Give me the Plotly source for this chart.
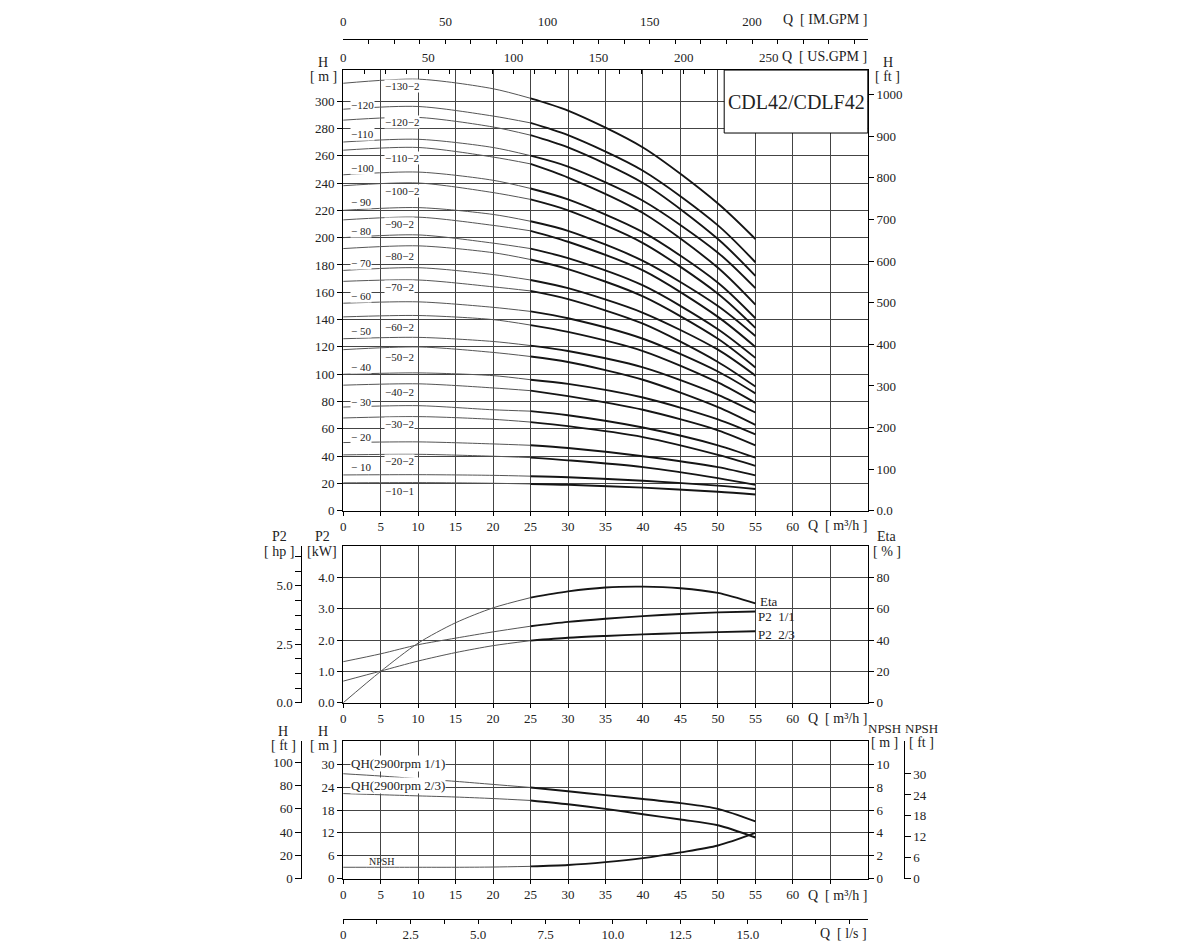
import plotly.graph_objects as go

# ---------------- DATA ----------------
Q_QH = [0, 10, 20, 25, 30, 40, 50, 55]          # m3/h sample points for QH curves

H_130_2 = [313, 316, 309, 302, 293, 266, 225, 199]
H_120   = [294, 296, 289, 284, 275, 249, 209, 182]
H_120_2 = [286, 288, 281, 275, 266, 240, 199, 172]
H_110   = [270, 272, 266, 260, 252, 227, 189, 163]
H_110_2 = [264, 266, 259, 254, 244, 218, 178, 151]
H_100   = [246, 248, 242, 236, 228, 204, 167, 141]
H_100_2 = [238, 240, 233, 228, 220, 196, 159, 134]
H_90    = [220, 222, 217, 212, 205, 183, 150, 128]
H_90_2  = [213, 215, 209, 205, 197, 176, 142, 120]
H_80    = [200, 202, 196, 192, 185, 165, 133, 112]
H_80_2  = [192, 194, 189, 184, 177, 157, 126, 105]
H_70    = [176, 178, 173, 169, 163, 145, 118, 99]
H_70_2  = [168, 169, 164, 161, 155, 137, 109, 91]
H_60    = [152, 153, 149, 146, 141, 126, 102, 86]
H_60_2  = [142, 143, 140, 136, 131, 117, 94, 79]
H_50    = [126, 127, 124, 121, 117, 105, 85, 72]
H_50_2  = [118, 120, 116, 113, 109, 96, 76, 63]
H_40    = [100, 101, 99, 96, 93, 83, 67, 56]
H_40_2  = [92, 93, 90, 88, 84, 74, 59, 48]
H_30    = [76, 77, 74, 73, 70, 61, 48, 39]
H_30_2  = [68, 69, 67, 65, 62, 54, 41, 33]
H_20    = [50, 50.5, 49, 48, 46, 40, 32, 26]
H_20_2  = [41, 41.4, 40, 39, 37, 32, 24, 19]
H_10    = [26.3, 26.5, 26, 25.4, 24.6, 22, 18.5, 16]
H_10_1  = [20.5, 20.7, 20.2, 19.7, 19.1, 17, 14, 12]

MODELS = ["130-2", "120", "120-2", "110", "110-2", "100", "100-2", "90", "90-2",
          "80", "80-2", "70", "70-2", "60", "60-2", "50", "50-2", "40", "40-2",
          "30", "30-2", "20", "20-2", "10", "10-1"]
CURVES = [H_130_2, H_120, H_120_2, H_110, H_110_2, H_100, H_100_2, H_90, H_90_2,
          H_80, H_80_2, H_70, H_70_2, H_60, H_60_2, H_50, H_50_2, H_40, H_40_2,
          H_30, H_30_2, H_20, H_20_2, H_10, H_10_1]

Q_STD = [0, 5, 10, 15, 20, 25, 30, 35, 40, 45, 50, 55]
ETA     = [0, 20, 38, 51, 60.5, 67, 71, 73.5, 74, 73, 70, 63.3]
P2_FULL = [1.31, 1.56, 1.85, 2.06, 2.26, 2.44, 2.58, 2.68, 2.76, 2.83, 2.88, 2.91]
P2_23   = [0.69, 1.01, 1.33, 1.6, 1.82, 1.98, 2.07, 2.13, 2.18, 2.22, 2.25, 2.28]
QH_FULL = [27.5, 26.9, 26.2, 25.5, 24.7, 23.9, 22.9, 21.9, 20.9, 19.8, 18.3, 15.0]
QH_23   = [22.3, 22.0, 21.7, 21.4, 21.0, 20.5, 19.5, 18.3, 16.9, 15.5, 14.0, 10.8]
NPSH    = [1.0, 1.0, 1.0, 1.0, 1.02, 1.08, 1.2, 1.45, 1.8, 2.3, 2.9, 4.0]

Q_TICKS = [0, 5, 10, 15, 20, 25, 30, 35, 40, 45, 50, 55, 60]

# ---------------- LAYOUT HELPERS ----------------
OFF = 8  # page body margin
W, H = 1200 - 2 * OFF, 950 - 2 * OFF
FONT = "Liberation Serif"
YS, YB = 0.9897, 1.0   # vertical correction for the photographed page
def PX(x): return (x - OFF) / W
def PY(y): return 1 - ((y - YB) / YS - OFF) / H

XD = [PX(341), PX(867)]
TOP_D = [PY(512), PY(71)]
MID_D = [PY(704), PY(547)]
BOT_D = [PY(880), PY(742.5)]

THIN = dict(color="#555555", width=1)
THICK = dict(color="#151515", width=1.9)
GRID = "#444444"
TICKFONT = dict(family=FONT, size=13, color="#222")

fig = go.Figure()

def split_trace(xs, ys, xa, ya, split=25):
    xt = [x for x in xs if x <= split]
    yt = ys[:len(xt)]
    i0 = xs.index(split)
    fig.add_trace(go.Scatter(x=xt, y=yt, mode="lines", line=dict(**THIN, shape="spline", smoothing=0.8),
                             xaxis=xa, yaxis=ya, hoverinfo="skip", showlegend=False))
    fig.add_trace(go.Scatter(x=xs[i0:], y=ys[i0:], mode="lines", line=dict(**THICK, shape="spline", smoothing=0.8),
                             xaxis=xa, yaxis=ya, hoverinfo="skip", showlegend=False))

for name, ys in zip(MODELS, CURVES):
    split_trace(Q_QH, ys, "x", "y")

split_trace(Q_STD, ETA, "x4", "y4")
split_trace(Q_STD, P2_FULL, "x4", "y3")
split_trace(Q_STD, P2_23, "x4", "y3")

split_trace(Q_STD, QH_FULL, "x5", "y6")
split_trace(Q_STD, QH_23, "x5", "y6")
split_trace(Q_STD, NPSH, "x5", "y7")

for xa, ya in [("x2", "y"), ("x3", "y"), ("x", "y2"), ("x4", "y5"), ("x5", "y8"), ("x5", "y9"), ("x6", "y6")]:
    fig.add_trace(go.Scatter(x=[None], y=[None], xaxis=xa, yaxis=ya, showlegend=False, hoverinfo="skip"))

base_x = dict(range=[0, 70], tickmode="array", tickvals=Q_TICKS,
              showgrid=True, gridcolor=GRID, gridwidth=1, showline=True, linecolor="black",
              linewidth=1, mirror=True, ticks="outside", ticklen=4, tickcolor="black",
              minor=dict(tickmode="array", tickvals=[65], showgrid=True, gridcolor=GRID,
                         gridwidth=1, ticks="outside", ticklen=4, tickcolor="black"),
              tickfont=TICKFONT, zeroline=False, fixedrange=True)

def ylin(**kw):
    d = dict(showline=True, linecolor="black", linewidth=1, ticks="outside", ticklen=5,
             tickcolor="black", tickfont=TICKFONT, zeroline=False, showgrid=False, fixedrange=True)
    d.update(kw)
    return d

H_TOP = (512 - 71) / 1.3667
layout = dict(
    width=W, height=H, autosize=False,
    margin=dict(l=0, r=0, t=0, b=0),
    paper_bgcolor="white", plot_bgcolor="white",
    showlegend=False,
    font=dict(family=FONT, size=13, color="#222"),
    xaxis=dict(domain=XD, anchor="y", **base_x),
    yaxis=ylin(domain=TOP_D, anchor="x", range=[0, H_TOP], tickmode="array",
               tickvals=list(range(0, 301, 20)),
               showgrid=True, gridcolor=GRID, gridwidth=1, mirror=True),
    yaxis2=ylin(overlaying="y", anchor="x", side="right", range=[0, H_TOP / 0.3048],
                tickmode="array", tickvals=list(range(0, 1001, 100)),
                ticktext=["0.0"] + [str(v) for v in range(100, 1001, 100)], showline=False),
    xaxis2=dict(overlaying="x", anchor="y", side="top", range=[0, 70 * 4.40287],
                tickmode="array", tickvals=[0, 50, 100, 150, 200, 250],
                ticks="inside", ticklen=4, tickcolor="black", tickfont=TICKFONT,
                ticklabelstandoff=4,
                minor=dict(tickmode="array", tickvals=[12.5 * i for i in range(1, 25)],
                           ticks="inside", ticklen=4, tickcolor="black"),
                showgrid=False, zeroline=False, showline=False, fixedrange=True),
    xaxis3=dict(overlaying="x", anchor="free", position=PY(40), side="top",
                range=[0, 70 * 3.66615], tickmode="array", tickvals=[0, 50, 100, 150, 200],
                ticks="inside", ticklen=4, tickcolor="black", tickfont=TICKFONT,
                ticklabelstandoff=8,
                minor=dict(tickmode="array", tickvals=[12.5 * i for i in range(1, 21)],
                           ticks="inside", ticklen=4, tickcolor="black"),
                showline=True, linecolor="black", linewidth=1,
                showgrid=False, zeroline=False, fixedrange=True),
    xaxis4=dict(domain=XD, anchor="y3", **base_x),
    yaxis3=ylin(domain=MID_D, anchor="x4", range=[0, 5], tickmode="array",
                tickvals=[0, 1, 2, 3, 4], ticktext=["0.0", "1.0", "2.0", "3.0", "4.0"],
                showgrid=True, gridcolor=GRID, gridwidth=1, mirror=True),
    yaxis4=ylin(overlaying="y3", anchor="x4", side="right", range=[0, 100], tickmode="array",
                tickvals=[0, 20, 40, 60, 80], showline=False),
    yaxis5=ylin(overlaying="y3", anchor="free", position=PX(299), side="left",
                range=[0, 5 / 0.7457], tickmode="array", tickvals=[0, 2.5, 5],
                ticktext=["0.0", "2.5", "5.0"], ticklen=6,
                minor=dict(tickmode="array", tickvals=[0.625 * i for i in range(1, 11) if i % 4 != 0],
                           ticks="outside", ticklen=6, tickcolor="black")),
    xaxis5=dict(domain=XD, anchor="y6", **base_x),
    yaxis6=ylin(domain=BOT_D, anchor="x5", range=[0, 36], tickmode="array",
                tickvals=[0, 6, 12, 18, 24, 30], showgrid=True, gridcolor=GRID, gridwidth=1,
                mirror=True),
    yaxis7=ylin(overlaying="y6", anchor="x5", side="right", range=[0, 12], tickmode="array",
                tickvals=[0, 2, 4, 6, 8, 10], showline=False),
    yaxis8=ylin(overlaying="y6", anchor="free", position=PX(299), side="left",
                range=[0, 36 / 0.3048], tickmode="array", tickvals=[0, 20, 40, 60, 80, 100], ticklen=6),
    yaxis9=ylin(overlaying="y6", anchor="free", position=PX(903), side="right",
                range=[0, 12 / 0.3048], tickmode="array", tickvals=[0, 6, 12, 18, 24, 30], ticklen=6),
    xaxis6=dict(overlaying="x5", anchor="free", position=PY(920), side="bottom",
                range=[0, 70 / 3.6], tickmode="array", tickvals=[0, 2.5, 5, 7.5, 10, 12.5, 15],
                ticktext=["0", "2.5", "5.0", "7.5", "10.0", "12.5", "15.0"],
                ticks="outside", ticklen=4, tickcolor="black", tickfont=TICKFONT,
                minor=dict(tickmode="array", tickvals=[1.25 * i for i in range(1, 16)],
                           ticks="outside", ticklen=4, tickcolor="black"),
                showline=True, linecolor="black", linewidth=1,
                showgrid=False, zeroline=False, fixedrange=True),
)
fig.update_layout(**layout)

fig.add_shape(type="rect", xref="paper", yref="paper", x0=PX(723), x1=PX(867), y0=PY(134), y1=PY(71),
              fillcolor="white", line=dict(color="black", width=1), layer="above")

anns = []
def ann(text, x, y, size=13, xanchor="center", bg=None):
    d = dict(text=text, x=PX(x), y=PY(y), xref="paper", yref="paper", showarrow=False,
             xanchor=xanchor, yanchor="middle", font=dict(family=FONT, size=size, color="#222"))
    if bg:
        d.update(bgcolor=bg, borderpad=0)
    anns.append(d)

ann("CDL42/CDLF42", 795, 103, size=20)
ann("Q  [ IM.GPM ]", 868, 20, size=14, xanchor="right")
ann("Q  [ US.GPM ]", 868, 57, size=14, xanchor="right")
ann("H", 321, 63, size=14); ann("[ m ]", 321, 77, size=14)
ann("H", 887, 63, size=14); ann("[ ft ]", 887, 77, size=14)
for yq in (527, 720, 897):
    ann("Q  [ m³/h ]", 868, yq, size=14, xanchor="right")
ann("Q  [ l/s ]", 868, 935, size=14, xanchor="right")
ann("P2", 277, 538, size=14); ann("[ hp ]", 277, 553, size=14)
ann("P2", 320, 538, size=14); ann("[kW]", 320, 553, size=14)
ann("Eta", 886, 538, size=14); ann("[ % ]", 886, 553, size=14)
ann("H", 281, 733, size=14); ann("[ ft ]", 281, 747, size=14)
ann("H", 321, 733, size=14); ann("[ m ]", 321, 747, size=14)
ann("NPSH", 884, 730, size=13); ann("[ m ]", 884, 744, size=14)
ann("NPSH", 921, 730, size=13); ann("[ ft ]", 921, 744, size=14)

ann("Eta", 757, 603, size=13, xanchor="left")
ann("P2  1/1", 755, 618, size=13, xanchor="left")
ann("P2  2/3", 755, 636, size=13, xanchor="left")

ann("QH(2900rpm 1/1)", 348, 765, size=13, xanchor="left", bg="white")
ann("QH(2900rpm 2/3)", 348, 787, size=13, xanchor="left", bg="white")
ann("NPSH", 380, 863, size=10)

LEFT_LABELS = [("−120", 106), ("−110", 135), ("−100", 169), ("− 90", 203), ("− 80", 232),
               ("− 70", 264.5), ("− 60", 297.5), ("− 50", 332), ("− 40", 368), ("− 30", 402.7),
               ("− 20", 437.7), ("− 10", 468.3)]
RIGHT_LABELS = [("−130−2", 86.7), ("−120−2", 122.7), ("−110−2", 159.3), ("−100−2", 191.7),
                ("−90−2", 225), ("−80−2", 256.7), ("−70−2", 288.3), ("−60−2", 328.3),
                ("−50−2", 357.7), ("−40−2", 393.3), ("−30−2", 425), ("−20−2", 462.3),
                ("−10−1", 491.7)]
for t, y in LEFT_LABELS:
    ann(t, 348, y, size=11, xanchor="left", bg="white")
for t, y in RIGHT_LABELS:
    ann(t, 382, y, size=11, xanchor="left", bg="white")

fig.update_layout(annotations=anns)
fig.write_html("out.html")
